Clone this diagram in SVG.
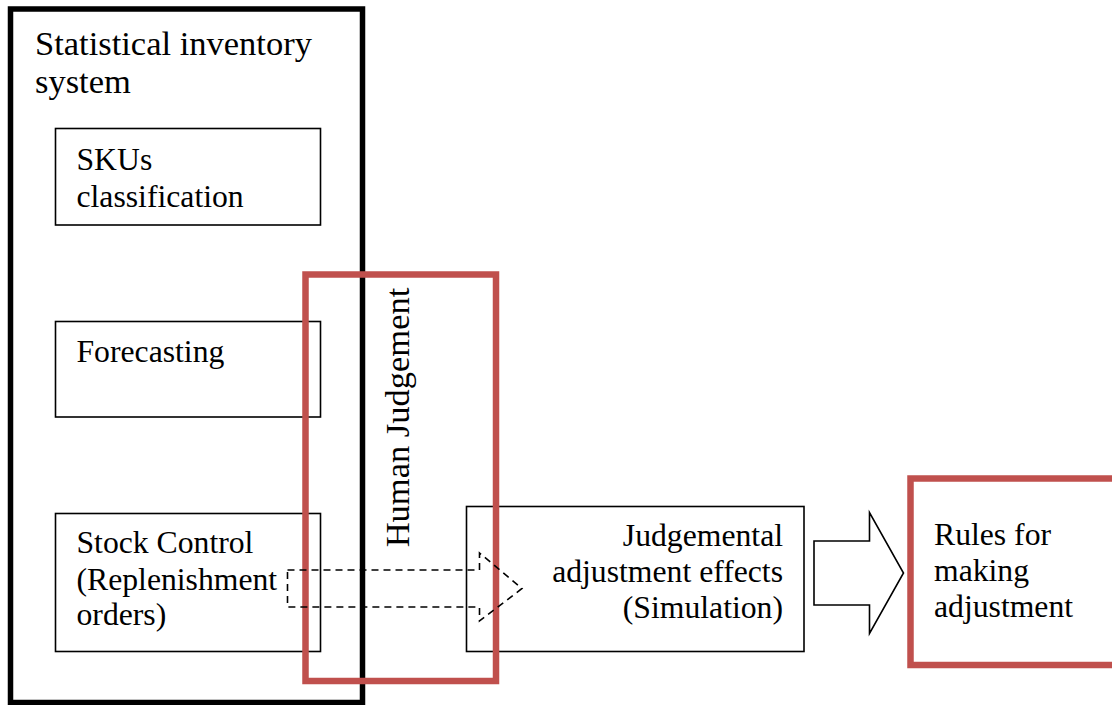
<svg xmlns="http://www.w3.org/2000/svg" width="1112" height="705" viewBox="0 0 1112 705">
  <style>
    .box { fill: none; stroke: #000; stroke-width: 1.6; }
    .outer { fill: none; stroke: #000; stroke-width: 5.5; }
    .red { fill: none; stroke: #c0504d; stroke-width: 6.5; }
    .txt { font-family: 'Liberation Serif', 'DejaVu Serif', serif; font-size: 31.7px; fill: #000; }
    .big { font-size: 34.5px; }
    .dash { fill: none; stroke: #000; stroke-width: 1.6; stroke-dasharray: 7 5; }
    .block { fill: #fff; stroke: #000; stroke-width: 1.6; stroke-linejoin: miter; }
  </style>
  <rect width="1112" height="705" fill="#fff"/>

  <!-- statistical inventory system container -->
  <g id="inventory-system">
    <rect class="outer" x="10.5" y="9" width="352" height="693.5"/>
    <text class="txt big" x="35" y="55">Statistical inventory</text>
    <text class="txt big" x="35" y="92.5">system</text>
  </g>

  <g id="skus">
    <rect class="box" x="55.5" y="128.5" width="265" height="96.5"/>
    <text class="txt" x="76.5" y="170">SKUs</text>
    <text class="txt" x="76.5" y="206.5">classification</text>
  </g>

  <g id="forecasting">
    <rect class="box" x="55.5" y="321.5" width="265" height="95.5"/>
    <text class="txt" x="76.5" y="361.5">Forecasting</text>
  </g>

  <g id="stock-control">
    <rect class="box" x="55.5" y="513.5" width="265" height="138"/>
    <text class="txt" x="76.5" y="553">Stock Control</text>
    <text class="txt" x="76.5" y="589.5">(Replenishment</text>
    <text class="txt" x="76.5" y="625">orders)</text>
  </g>

  <g id="judgemental-effects">
    <rect class="box" x="466.5" y="506.5" width="337.5" height="145"/>
    <text class="txt" x="783" y="545.5" text-anchor="end">Judgemental</text>
    <text class="txt" x="783" y="581.5" text-anchor="end">adjustment effects</text>
    <text class="txt" x="783" y="618" text-anchor="end">(Simulation)</text>
  </g>

  <g id="human-judgement">
    <rect class="red" x="305.5" y="274.5" width="190.5" height="406.5"/>
    <text class="txt big" transform="translate(408.5 417.5) rotate(-90)" text-anchor="middle">Human Judgement</text>
  </g>

  <g id="rules">
    <rect class="red" x="910.5" y="478.5" width="230" height="186.5"/>
    <text class="txt" x="934" y="545">Rules for</text>
    <text class="txt" x="934" y="581">making</text>
    <text class="txt" x="934" y="617">adjustment</text>
  </g>

  <g id="connectors">
    <!-- dashed hollow arrow: stock control to simulation -->
    <path class="dash" d="M287.5 570 H479.5 V553 L522 588.5 L479.5 621 V607 H287.5 Z"/>
    <!-- block arrow: simulation to rules -->
    <path class="block" d="M814 541 H869.5 V512.5 L903.5 573 L869.5 633.5 V605 H814 Z"/>
  </g>
</svg>
